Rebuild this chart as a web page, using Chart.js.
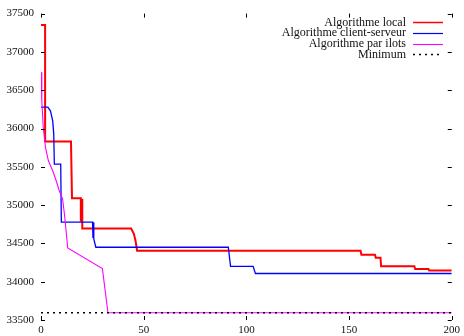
<!DOCTYPE html>
<html>
<head>
<meta charset="utf-8">
<script src="https://cdn.jsdelivr.net/npm/chart.js@4.4.1/dist/chart.umd.min.js"></script>
<style>
html, body { margin: 0; padding: 0; background: #fff; }
</style>
</head>
<body>
<canvas id="chart" width="464" height="336"></canvas>
<script>
// tick labels
var xTicks = [0, 50, 100, 150, 200];
var yTicks = [33500, 34000, 34500, 35000, 35500, 36000, 36500, 37000, 37500];

// Algorithme local
var localX = [0, 2, 2, 14.6, 15.1, 19.4, 19.4, 19.7, 19.7, 20.1, 20.1, 43.9, 45.2, 46, 46.8,
              155.6, 156, 162.6, 163, 165.3, 165.6, 181.8, 182.2, 188.7, 189, 200];
var localY = [37350, 37350, 35830, 35830, 35090, 35090, 34800, 34800, 35070, 35070, 34695, 34695, 34625, 34540, 34405,
              34405, 34353, 34353, 34314, 34314, 34201, 34201, 34166, 34166, 34145, 34145];

// Algorithme client-serveur
var clientX = [0, 3.3, 4.6, 5.7, 6.2, 6.5, 9.6, 9.9, 25.1, 25.3, 25.5, 25.7, 26.7, 91.2, 92.3, 103.3, 104.4, 200];
var clientY = [36280, 36280, 36230, 36100, 35930, 35535, 35535, 34777, 34777, 34570, 34777, 34560, 34450, 34450, 34201, 34201, 34107, 34107];

// Algorithme par ilots
var ilotsX = [0, 0.4, 1.1, 2.2, 3.6, 5.7, 7.4, 8.9, 10.5, 11.4, 12.2, 13, 29.9, 32.6, 200];
var ilotsY = [36734, 36360, 36010, 35751, 35578, 35448, 35318, 35188, 35080, 34886, 34669, 34440, 34171, 33595, 33595];

// Minimum
var minX = [0, 200];
var minY = [33595, 33595];

function pts(xs, ys) {
    var out = [];
    for (var i = 0; i < xs.length; i++) {
        out.push({x: xs[i], y: ys[i]});
    }
    return out;
}

Chart.defaults.font.family = '"Liberation Serif", serif';
Chart.defaults.font.size = 11;
Chart.defaults.color = '#111';

// small inward ticks on all four sides, gnuplot style
var tickMarks = {
    id: 'tickMarks',
    afterDatasetsDraw: function(chart) {
        var ctx = chart.ctx, a = chart.chartArea;
        var xs = chart.scales.x, ys = chart.scales.y;
        ctx.save();
        ctx.strokeStyle = '#000';
        ctx.lineWidth = 1;
        ctx.beginPath();
        xs.ticks.forEach(function(t) {
            var px = Math.round(xs.getPixelForValue(t.value)) + 0.5;
            ctx.moveTo(px, a.bottom); ctx.lineTo(px, a.bottom - 4);
            ctx.moveTo(px, a.top); ctx.lineTo(px, a.top + 4);
        });
        ys.ticks.forEach(function(t) {
            var py = Math.round(ys.getPixelForValue(t.value)) + 0.5;
            ctx.moveTo(a.left, py); ctx.lineTo(a.left + 4, py);
            ctx.moveTo(a.right, py); ctx.lineTo(a.right - 4, py);
        });
        ctx.stroke();
        ctx.restore();
    }
};

// key in the top right corner: text right aligned, sample line after it
var keyBox = {
    id: 'keyBox',
    afterDraw: function(chart) {
        var ctx = chart.ctx;
        ctx.save();
        ctx.font = '12px "Liberation Serif", serif';
        ctx.textAlign = 'right';
        ctx.textBaseline = 'middle';
        chart.data.datasets.forEach(function(ds, i) {
            var y = 22 + i * 10.8;
            ctx.fillStyle = '#111';
            ctx.fillText(ds.label, 406, y + 0.5);
            ctx.strokeStyle = ds.borderColor;
            ctx.lineWidth = ds.keyWidth;
            ctx.setLineDash(ds.borderDash || []);
            ctx.beginPath();
            ctx.moveTo(413, Math.round(y) + 0.5);
            ctx.lineTo(443, Math.round(y) + 0.5);
            ctx.stroke();
        });
        ctx.restore();
    }
};

new Chart(document.getElementById('chart'), {
    type: 'line',
    data: {
        datasets: [
            {
                label: 'Algorithme local',
                data: pts(localX, localY),
                borderColor: '#ff0000',
                borderWidth: 2,
                keyWidth: 1.5,
                order: 3
            },
            {
                label: 'Algorithme client-serveur',
                data: pts(clientX, clientY),
                borderColor: '#0000ff',
                borderWidth: 1.3,
                keyWidth: 1.2,
                order: 2
            },
            {
                label: 'Algorithme par ilots',
                data: pts(ilotsX, ilotsY),
                borderColor: '#ff00ff',
                borderWidth: 1.1,
                keyWidth: 1.1,
                order: 1
            },
            {
                label: 'Minimum',
                data: pts(minX, minY),
                borderColor: '#000000',
                borderWidth: 1.5,
                keyWidth: 1.5,
                borderDash: [2, 4],
                order: 0
            }
        ]
    },
    options: {
        responsive: false,
        animation: false,
        devicePixelRatio: 1,
        layout: {
            padding: {top: 12, right: 9, left: 0, bottom: 0}
        },
        elements: {
            point: { radius: 0 },
            line: { tension: 0 }
        },
        plugins: {
            legend: { display: false },
            tooltip: { enabled: false }
        },
        scales: {
            x: {
                type: 'linear',
                min: 0,
                max: 200,
                border: { display: false },
                grid: { display: false, drawTicks: false },
                afterBuildTicks: function(scale) {
                    scale.ticks = xTicks.map(function(v) { return {value: v}; });
                },
                afterFit: function(scale) { scale.height = 16; },
                ticks: {
                    padding: 4,
                    maxRotation: 0,
                    autoSkip: false,
                    callback: function(v) { return String(v); }
                }
            },
            y: {
                type: 'linear',
                min: 33500,
                max: 37500,
                border: { display: false },
                grid: { display: false, drawTicks: false },
                afterBuildTicks: function(scale) {
                    scale.ticks = yTicks.map(function(v) { return {value: v}; });
                },
                afterFit: function(scale) { scale.width = 41; },
                ticks: {
                    padding: 7,
                    autoSkip: false,
                    callback: function(v) { return String(v); }
                }
            }
        }
    },
    plugins: [tickMarks, keyBox]
});
</script>
</body>
</html>
